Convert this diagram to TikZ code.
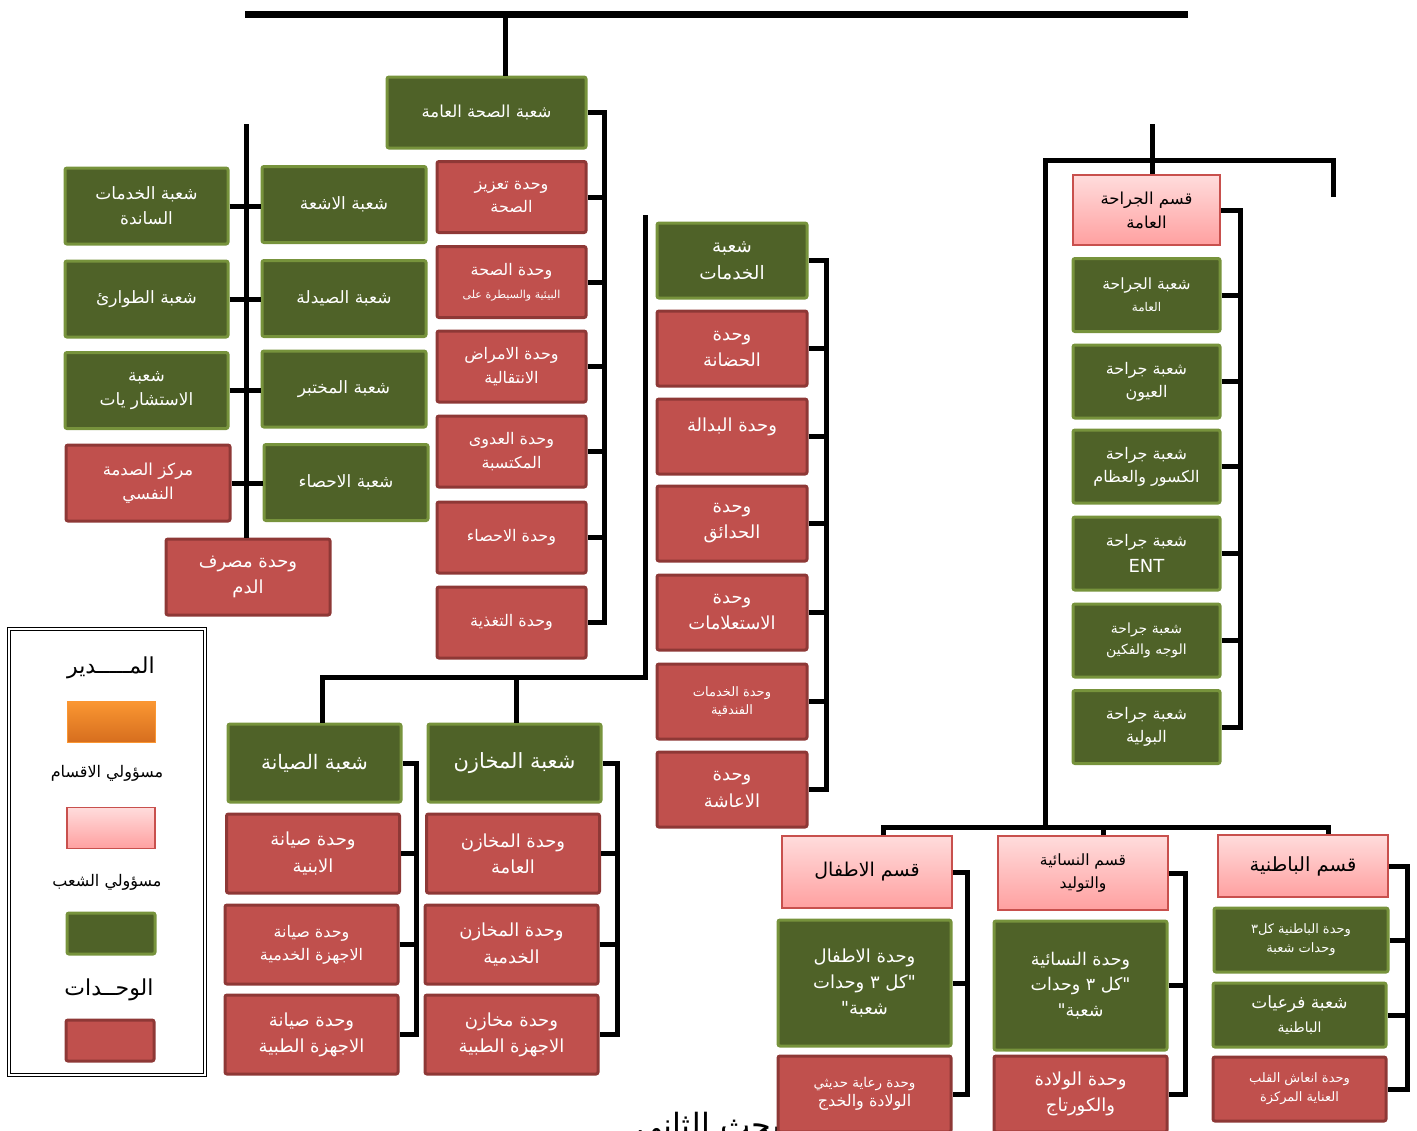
\documentclass[tikz,border=0pt]{standalone}
\usepackage{fontspec}
\usepackage{xcolor}
\usepackage{tikz}
\newfontfamily\arabicfont[Script=Arabic]{DejaVu Sans}
\TeXXeTstate=1
\newcommand{\AR}[1]{\beginR #1\endR}
\newcommand{\boxfont}[1]{\arabicfont\fontsize{#1bp}{\fpeval{1.45*#1}bp}\selectfont}
\definecolor{boxgreen}{RGB}{79,98,40}
\definecolor{edgegreen}{RGB}{119,147,60}
\definecolor{boxred}{RGB}{192,80,77}
\definecolor{edgered}{RGB}{142,56,54}
\definecolor{pinktop}{RGB}{255,220,220}
\definecolor{pinkbot}{RGB}{255,160,160}
\definecolor{edgepink}{RGB}{200,80,77}
\definecolor{orangetop}{RGB}{250,150,50}
\definecolor{orangebot}{RGB}{214,110,30}
\tikzset{
  fs/.style={font=\boxfont{#1}},
  sz/.style n args={2}{minimum width=#1bp, minimum height=#2bp},
  box/.style={rectangle, align=center, inner sep=1bp, fs=16, line width=3bp},
  greenbox/.style={box, fill=boxgreen, draw=edgegreen, rounded corners=2bp, text=white},
  redbox/.style={box, fill=boxred, draw=edgered, rounded corners=2bp, text=white},
  pinkbox/.style={box, top color=pinktop, bottom color=pinkbot, draw=edgepink, line width=1.5bp, text=black},
  orangebox/.style={box, top color=orangetop, bottom color=orangebot, draw=orangetop, line width=1.5bp},
  conn/.style={line width=5bp, black},
}

\begin{document}
\begin{tikzpicture}[x=1bp, y=-1bp]
  \useasboundingbox (0,0) rectangle (1417,1130);
  % heading of the next page, cut by the page edge
  \node[font=\boxfont{32}] (sect) at (728,1128) {\AR{المبحث الثاني}};

  % ---- PUBLIC HEALTH BRANCH ----
  \node[greenbox, sz={199}{71}, fs=16.5] (psh) at (486.5,112.5) {\AR{شعبة الصحة العامة}};
  \node[redbox, sz={149}{71}] (phu1) at (511.5,197)   {\AR{وحدة تعزيز}\\\AR{الصحة}};
  \node[redbox, sz={149}{71}] (phu2) at (511.5,282) {\AR{وحدة الصحة}\\{\boxfont{11}\AR{البيئية والسيطرة على}}};
  \node[redbox, sz={149}{71}] (phu3) at (511.5,366.5) {\AR{وحدة الامراض}\\\AR{الانتقالية}};
  \node[redbox, sz={149}{71}] (phu4) at (511.5,451.5) {\AR{وحدة العدوى}\\\AR{المكتسبة}};
  \node[redbox, sz={149}{71}] (phu5) at (511.5,537.5) {\AR{وحدة الاحصاء}};
  \node[redbox, sz={149}{71}] (phu6) at (511.5,622.5) {\AR{وحدة التغذية}};

  % ---- LEFT BRANCHES ----
  \node[greenbox, sz={163}{76}, fs=17] (svc)  at (146.5,206)   {\AR{شعبة الخدمات}\\\AR{الساندة}};
  \node[greenbox, sz={163}{76}, fs=17] (er)   at (146.5,299)   {\AR{شعبة الطوارئ}};
  \node[greenbox, sz={163}{76}, fs=17] (cons) at (146.5,390.5) {\AR{شعبة}\\\AR{الاستشار يات}};
  \node[redbox,   sz={164}{76}, fs=16.5] (trauma) at (148,483) {\AR{مركز الصدمة}\\\AR{النفسي}};
  \node[greenbox, sz={164}{76}, fs=17] (rad)  at (344,204.5)   {\AR{شعبة الاشعة}};
  \node[greenbox, sz={164}{76}, fs=17] (phar) at (344,298.5)   {\AR{شعبة الصيدلة}};
  \node[greenbox, sz={164}{76}, fs=17] (lab)  at (344,389)     {\AR{شعبة المختبر}};
  \node[greenbox, sz={164}{76}, fs=17] (stat) at (346,482.5)   {\AR{شعبة الاحصاء}};
  \node[redbox,   sz={164}{76}, fs=18] (blood) at (248,577)    {\AR{وحدة مصرف}\\\AR{الدم}};

  % ---- SERVICES BRANCH ----
  \node[greenbox, sz={150}{75}, fs=18.5] (srv) at (732,260.5) {\AR{شعبة}\\\AR{الخدمات}};
  \node[redbox,   sz={150}{75}, fs=18] (srvu1) at (732,348.5) {\AR{وحدة}\\\AR{الحضانة}};
  \node[redbox,   sz={150}{75}, fs=18] (srvu2) at (732,436.5)
    {\raisebox{0pt}[\height][\dimexpr\depth+20bp]{\AR{وحدة البدالة}}};
  \node[redbox,   sz={150}{75}, fs=18] (srvu3) at (732,523.5) {\AR{وحدة}\\\AR{الحدائق}};
  \node[redbox,   sz={150}{75}, fs=18] (srvu4) at (732,612.5) {\AR{وحدة}\\\AR{الاستعلامات}};
  \node[redbox,   sz={150}{75}, fs=13] (srvu5) at (732,701.5) {\AR{وحدة الخدمات}\\\AR{الفندقية}};
  \node[redbox,   sz={150}{75}, fs=18] (srvu6) at (732,789.5) {\AR{وحدة}\\\AR{الاعاشة}};

  % ---- MAINTENANCE / STORES ----
  \node[greenbox, sz={173}{78}, fs=20] (maint) at (314.5,763)  {\AR{شعبة الصيانة}};
  \node[redbox,   sz={173}{79}, fs=18] (mu1)   at (313,853.5)  {\AR{وحدة صيانة}\\\AR{الابنية}};
  \node[redbox,   sz={173}{79}, fs=16] (mu2)   at (311.5,944.5) {\AR{وحدة صيانة}\\\AR{الاجهزة الخدمية}};
  \node[redbox,   sz={173}{79}, fs=18] (mu3)   at (311.5,1034.5) {\AR{وحدة صيانة}\\\AR{الاجهزة الطبية}};
  \node[greenbox, sz={173}{78}, fs=21] (store) at (514.5,763)  {\AR{شعبة المخازن}};
  \node[redbox,   sz={173}{79}, fs=18] (su1)   at (513,853.5)  {\AR{وحدة المخازن}\\\AR{العامة}};
  \node[redbox,   sz={173}{79}, fs=18] (su2)   at (511.5,944.5) {\AR{وحدة المخازن}\\\AR{الخدمية}};
  \node[redbox,   sz={173}{79}, fs=18] (su3)   at (511.5,1034.5) {\AR{وحدة مخازن}\\\AR{الاجهزة الطبية}};

  % ---- SURGERY DEPARTMENT ----
  \node[pinkbox,  sz={147}{70}, fs=16.5] (surg) at (1146.5,210) {\AR{قسم الجراحة}\\\AR{العامة}};
  \node[greenbox, sz={147}{73}, fs=15.5] (sg1)  at (1146.5,295)   {\AR{شعبة الجراحة}\\{\boxfont{12}\AR{العامة}}};
  \node[greenbox, sz={147}{73}]        (sg2)  at (1146.5,381.5) {\AR{شعبة جراحة}\\\AR{العيون}};
  \node[greenbox, sz={147}{73}]        (sg3)  at (1146.5,466.5) {\AR{شعبة جراحة}\\\AR{الكسور والعظام}};
  \node[greenbox, sz={147}{73}]        (sg4)  at (1146.5,553.5) {\AR{شعبة جراحة}\\[3bp]{\boxfont{18}ENT}};
  \node[greenbox, sz={147}{73}, fs=14] (sg5)  at (1146.5,640.5) {\AR{شعبة جراحة}\\\AR{الوجه والفكين}};
  \node[greenbox, sz={147}{73}]        (sg6)  at (1146.5,727)   {\AR{شعبة جراحة}\\\AR{البولية}};

  % ---- PAEDIATRICS / OBSTETRICS / INTERNAL MEDICINE ----
  \node[pinkbox,  sz={170}{72}, fs=19] (peds)  at (867,872)    {\AR{قسم الاطفال}};
  \node[greenbox, sz={173}{126}, fs=18] (pedsw) at (864.5,983) {\AR{وحدة الاطفال}\\\AR{"كل ٣ وحدات}\\\AR{شعبة"}};
  \node[redbox,   sz={173}{76}, fs=13.5] (pedsu) at (864.5,1094) {\AR{وحدة رعاية حديثي}\\{\boxfont{16}\AR{الولادة والخدج}}};
  \node[pinkbox,  sz={170}{74}, fs=15.5] (obgyn) at (1083,873) {\AR{قسم النسائية}\\\AR{والتوليد}};
  \node[greenbox, sz={173}{129}, fs=17.5] (obw) at (1080.5,985.5) {\AR{وحدة النسائية}\\\AR{"كل ٣ وحدات}\\\AR{شعبة"}};
  \node[redbox,   sz={173}{76}, fs=18] (obu)   at (1080.5,1094) {\AR{وحدة الولادة}\\\AR{والكورتاج}};
  \node[pinkbox,  sz={170}{62}, fs=19.5] (intm) at (1303,866)  {\AR{قسم الباطنية}};
  \node[greenbox, sz={174}{64}, fs=13] (intw)  at (1301,940)   {\AR{وحدة الباطنية كل٣}\\\AR{وحدات شعبة}};
  \node[greenbox, sz={173}{64}, fs=17] (intsub) at (1299.5,1015) {\AR{شعبة فرعيات}\\{\boxfont{14}\AR{الباطنية}}};
  \node[redbox,   sz={173}{64}, fs=13] (icu)   at (1299.5,1089) {\AR{وحدة انعاش القلب}\\\AR{العناية المركزة}};

  % ---- CONNECTORS ----
  \coordinate (barL) at (245,14);
  \coordinate (barR) at (1188,14);
  \coordinate (barA) at (505,14);
  \draw[conn, line width=7bp] (barL) -- (barR);
  \draw[conn] (barA) -- (barA |- psh.north);

  % public health bracket
  \coordinate (phx) at (604,0);
  \draw[conn] (psh.east) -| (phx |- phu6.east) -- (phu6.east);
  \foreach \n in {phu1,phu2,phu3,phu4,phu5}
    \draw[conn] (\n.east) -- (\n.east -| phx);

  % left spine
  \coordinate (lsTop) at (246,124);
  \draw[conn] (lsTop) -- (lsTop |- blood.north);
  \draw[conn] (svc.east) -- (svc.east -| rad.west);
  \draw[conn] (er.east) -- (er.east -| phar.west);
  \draw[conn] (cons.east) -- (cons.east -| lab.west);
  \draw[conn] (trauma.east) -- (trauma.east -| stat.west);

  % services bracket
  \coordinate (svx) at (826,0);
  \draw[conn] (srv.east) -| (svx |- srvu6.east) -- (srvu6.east);
  \foreach \n in {srvu1,srvu2,srvu3,srvu4,srvu5}
    \draw[conn] (\n.east) -- (\n.east -| svx);

  % middle spine to maintenance and stores
  \coordinate (msTop) at (645,215);
  \coordinate (msBot) at (645,677);
  \coordinate (msL) at (322,677);
  \coordinate (msS) at (516,677);
  \draw[conn] (msTop) -- (msBot) -- (msL) -- (msL |- maint.north);
  \draw[conn] (msS) -- (msS |- store.north);

  \coordinate (mnx) at (416,0);
  \draw[conn] (maint.east) -| (mnx |- mu3.east) -- (mu3.east);
  \foreach \n in {mu1,mu2}
    \draw[conn] (\n.east) -- (\n.east -| mnx);
  \coordinate (stx) at (617,0);
  \draw[conn] (store.east) -| (stx |- su3.east) -- (su3.east);
  \foreach \n in {su1,su2}
    \draw[conn] (\n.east) -- (\n.east -| stx);

  % right spine
  \coordinate (rsTop) at (1152,124);
  \draw[conn] (rsTop) -- (rsTop |- surg.north);
  \coordinate (rsL) at (1045,160);
  \coordinate (rsR) at (1333,160);
  \coordinate (rsRd) at (1333,197);
  \coordinate (rsB) at (1045,827);
  \draw[conn] (rsRd) -- (rsR) -- (rsL) -- (rsB);
  \coordinate (hzL) at (883,827);
  \coordinate (hzM) at (1103,827);
  \coordinate (hzR) at (1328,827);
  \draw[conn] (hzL |- peds.north) -- (hzL) -- (hzR) -- (hzR |- intm.north);
  \draw[conn] (hzM) -- (hzM |- obgyn.north);

  % surgery bracket
  \coordinate (sgx) at (1240,0);
  \draw[conn] (surg.east) -| (sgx |- sg6.east) -- (sg6.east);
  \foreach \n in {sg1,sg2,sg3,sg4,sg5}
    \draw[conn] (\n.east) -- (\n.east -| sgx);

  % bottom right brackets
  \coordinate (pdx) at (967,0);
  \draw[conn] (peds.east) -| (pdx |- pedsu.east) -- (pedsu.east);
  \draw[conn] (pedsw.east) -- (pedsw.east -| pdx);
  \coordinate (obx) at (1185,0);
  \draw[conn] (obgyn.east) -| (obx |- obu.east) -- (obu.east);
  \draw[conn] (obw.east) -- (obw.east -| obx);
  \coordinate (inx) at (1407,0);
  \draw[conn] (intm.east) -| (inx |- icu.east) -- (icu.east);
  \foreach \n in {intw,intsub}
    \draw[conn] (\n.east) -- (\n.east -| inx);

  % ---- LEGEND ----
  \draw[line width=0.8bp, double, double distance=2.5bp] (9,629) rectangle (205,1075);
  \node[fs=22] (lgdDirT) at (111,668) {\AR{المـــــدير}};
  \node[orangebox, sz={88}{41}] (lgdDir) at (111.5,722) {};
  \node[fs=16] (lgdDepT) at (107,773) {\AR{مسؤولي الاقسام}};
  \node[pinkbox, sz={88}{41}] (lgdDep) at (111,828) {};
  \node[fs=16] (lgdBrT) at (107,882) {\AR{مسؤولي الشعب}};
  \node[greenbox, sz={88}{41}] (lgdBr) at (111,933.5) {};
  \node[fs=22] (lgdUnT) at (109,990) {\AR{الوحــدات}};
  \node[redbox, sz={88}{41}] (lgdUn) at (110,1040.5) {};
\end{tikzpicture}
\end{document}
